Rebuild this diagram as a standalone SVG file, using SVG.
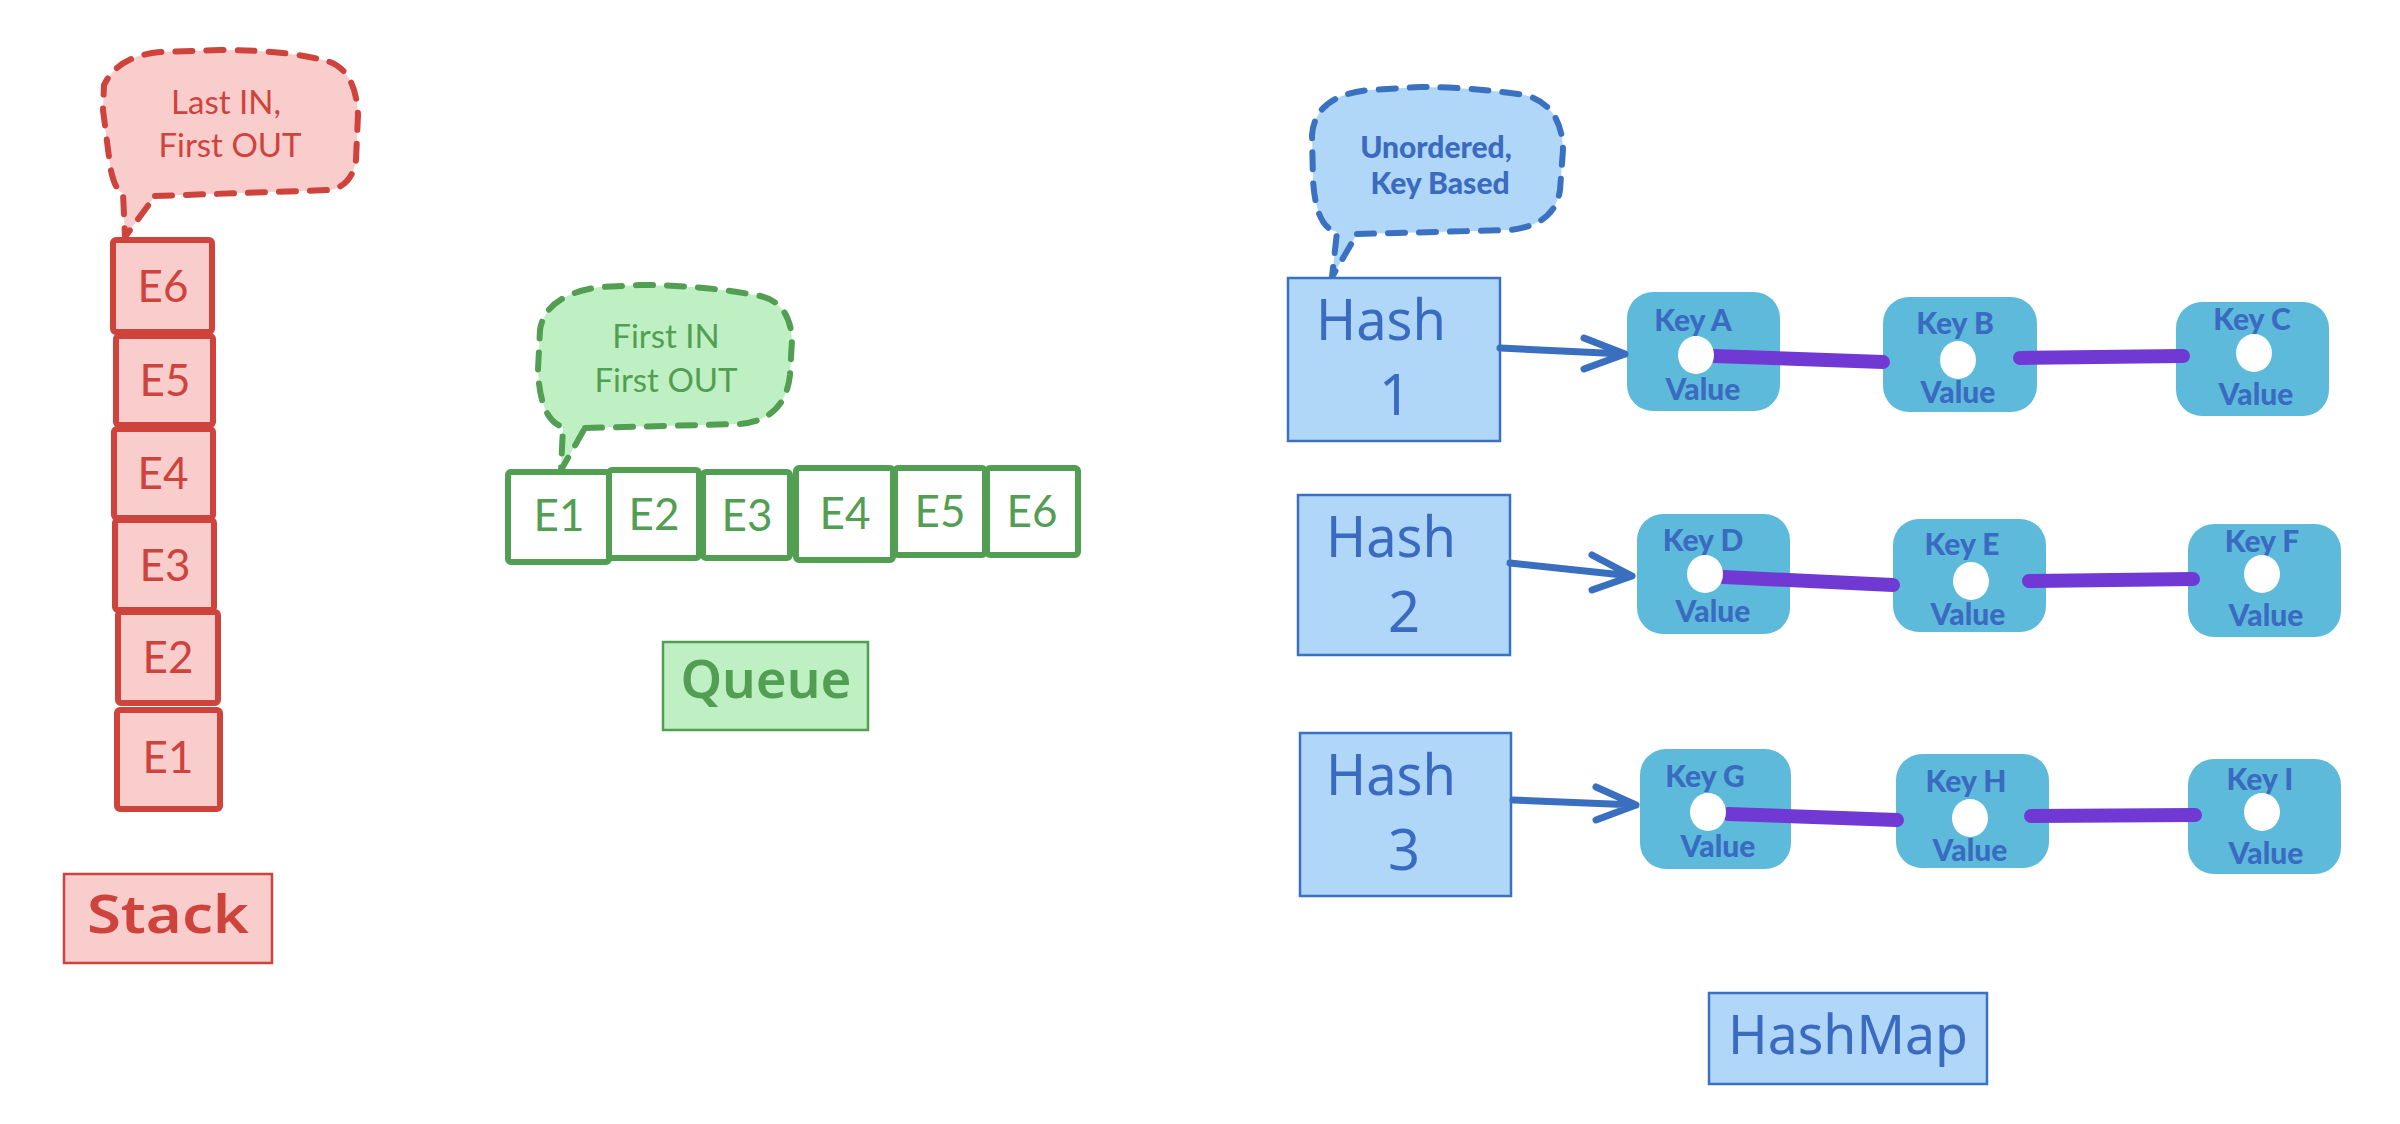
<svg xmlns="http://www.w3.org/2000/svg" width="2400" height="1124" viewBox="0 0 2400 1124">
<style>
.rbox{fill:#f8cdcc;stroke:#cf433d;stroke-width:6;stroke-linejoin:round}
.gbox{fill:#ffffff;stroke:#529e52;stroke-width:6;stroke-linejoin:round}
.rtxt{fill:#cf433d;font-family:Lato,"Noto Sans",sans-serif;font-size:44px;text-anchor:middle}
.gtxt{fill:#529e52;font-family:Lato,"Noto Sans",sans-serif;font-size:44px;text-anchor:middle}
.rbub{fill:#f8cdcc;stroke:#cf433d;stroke-width:6;stroke-dasharray:17 14;stroke-linecap:round;stroke-linejoin:round}
.gbub{fill:#bff0c3;stroke:#529e52;stroke-width:6;stroke-dasharray:17 14;stroke-linecap:round;stroke-linejoin:round}
.bbub{fill:#b0d6f8;stroke:#3b71c1;stroke-width:6;stroke-dasharray:17 14;stroke-linecap:round;stroke-linejoin:round}
.btxt{font-family:Lato,"Noto Sans",sans-serif;font-size:33px;text-anchor:middle}
.hand{font-family:"Noto Sans",sans-serif;text-anchor:middle}
.hash{fill:#b0d6f8;stroke:#3b71c1;stroke-width:2.5}
.knode{fill:#5dbadb}
.ktxt{fill:#3a6bc0;font-family:Lato,"Liberation Sans",sans-serif;font-weight:900;font-size:30px;text-anchor:middle}
.hole{fill:#ffffff}
.link{stroke:#7139d3;stroke-width:14;stroke-linecap:round;fill:none}
.arrow{stroke:#3a6fc0;stroke-width:7;stroke-linecap:round;stroke-linejoin:round;fill:none}
</style>

<!-- STACK -->
<g id="stack-bubble">
<path class="rbub" d="M155,196 L330,190 Q352,186 356,160 L358,115 Q356,72 330,62 Q290,50 220,50 L160,52 Q118,56 104,85 L103,110 L110,165 Q114,190 123,193 L125,237 Z"/>
<text class="btxt" fill="#cf433d" x="226" y="114">Last IN,</text>
<text class="btxt" fill="#cf433d" x="230" y="157">First OUT</text>
</g>
<g id="stack-e6"><rect class="rbox" x="113" y="240" width="99" height="92" rx="3"/><text class="rtxt" x="163" y="302">E6</text></g>
<g id="stack-e5"><rect class="rbox" x="116" y="336" width="97" height="89" rx="3"/><text class="rtxt" x="165" y="396">E5</text></g>
<g id="stack-e4"><rect class="rbox" x="114" y="429" width="99" height="89" rx="3"/><text class="rtxt" x="163" y="489">E4</text></g>
<g id="stack-e3"><rect class="rbox" x="115" y="520" width="99" height="90" rx="3"/><text class="rtxt" x="165" y="581">E3</text></g>
<g id="stack-e2"><rect class="rbox" x="118" y="612" width="100" height="91" rx="3"/><text class="rtxt" x="168" y="673">E2</text></g>
<g id="stack-e1"><rect class="rbox" x="117" y="710" width="103" height="99" rx="3"/><text class="rtxt" x="168" y="773">E1</text></g>
<g id="stack-label">
<rect x="64" y="874" width="208" height="89" fill="#f8cdcc" stroke="#cf433d" stroke-width="2.5"/>
<text class="hand" fill="#cf433d" x="168" y="933" font-size="52" font-weight="600" textLength="162" lengthAdjust="spacingAndGlyphs">Stack</text>
</g>

<!-- QUEUE -->
<g id="queue-bubble">
<path class="gbub" d="M585,428 L740,424 Q785,420 790,375 L792,340 Q790,300 755,295 Q700,285 640,285 L600,287 Q545,295 540,330 L538,370 Q540,420 563,427 L561,470 Z"/>
<text class="btxt" fill="#529e52" x="666" y="348">First IN</text>
<text class="btxt" fill="#529e52" x="666" y="392">First OUT</text>
</g>
<g id="queue-e1"><rect class="gbox" x="508" y="472" width="101" height="90" rx="3"/><text class="gtxt" x="559" y="531">E1</text></g>
<g id="queue-e2"><rect class="gbox" x="609" y="470" width="90" height="88" rx="3"/><text class="gtxt" x="654" y="530">E2</text></g>
<g id="queue-e3"><rect class="gbox" x="703" y="472" width="87" height="86" rx="3"/><text class="gtxt" x="747" y="531">E3</text></g>
<g id="queue-e4"><rect class="gbox" x="796" y="468" width="97" height="92" rx="3"/><text class="gtxt" x="845" y="529">E4</text></g>
<g id="queue-e5"><rect class="gbox" x="895" y="468" width="90" height="87" rx="3"/><text class="gtxt" x="940" y="527">E5</text></g>
<g id="queue-e6"><rect class="gbox" x="987" y="468" width="91" height="87" rx="3"/><text class="gtxt" x="1032" y="527">E6</text></g>
<g id="queue-label">
<rect x="663" y="642" width="205" height="88" fill="#bff0c3" stroke="#529e52" stroke-width="2.5"/>
<text class="hand" fill="#529e52" x="766" y="698" font-size="52" font-weight="600" textLength="171" lengthAdjust="spacingAndGlyphs">Queue</text>
</g>

<!-- HASHMAP -->
<g id="hash-bubble">
<path class="bbub" d="M1357,234 L1510,230 Q1555,225 1560,190 L1563,150 Q1562,105 1525,95 Q1470,87 1420,87 L1370,90 Q1315,95 1312,135 L1313,180 Q1316,228 1337,232 L1332,277 Z"/>
<text class="ktxt" x="1436" y="158" font-size="32">Unordered,</text>
<text class="ktxt" x="1440" y="194" font-size="32">Key Based</text>
</g>
<g id="hash1">
<rect class="hash" x="1288" y="278" width="212" height="163"/>
<text class="hand" fill="#3a6bc0" x="1381" y="340" font-size="56" textLength="130" lengthAdjust="spacingAndGlyphs">Hash</text>
<text class="hand" fill="#3a6bc0" x="1395" y="415" font-size="56">1</text>
</g>
<g id="hash2">
<rect class="hash" x="1298" y="495" width="212" height="160"/>
<text class="hand" fill="#3a6bc0" x="1391" y="557" font-size="56" textLength="130" lengthAdjust="spacingAndGlyphs">Hash</text>
<text class="hand" fill="#3a6bc0" x="1404" y="632" font-size="56">2</text>
</g>
<g id="hash3">
<rect class="hash" x="1300" y="733" width="211" height="163"/>
<text class="hand" fill="#3a6bc0" x="1391" y="795" font-size="56" textLength="130" lengthAdjust="spacingAndGlyphs">Hash</text>
<text class="hand" fill="#3a6bc0" x="1404" y="870" font-size="56">3</text>
</g>

<g id="key-a"><rect class="knode" x="1627" y="292" width="153" height="119" rx="26"/><text class="ktxt" x="1693" y="331">Key A</text><text class="ktxt" x="1703" y="400">Value</text></g>
<g id="key-b"><rect class="knode" x="1883" y="297" width="154" height="115" rx="26"/><text class="ktxt" x="1955" y="334">Key B</text><text class="ktxt" x="1958" y="403">Value</text></g>
<g id="key-c"><rect class="knode" x="2176" y="302" width="153" height="114" rx="26"/><text class="ktxt" x="2252" y="330">Key C</text><text class="ktxt" x="2256" y="405">Value</text></g>
<g id="key-d"><rect class="knode" x="1637" y="514" width="153" height="120" rx="26"/><text class="ktxt" x="1703" y="551">Key D</text><text class="ktxt" x="1713" y="622">Value</text></g>
<g id="key-e"><rect class="knode" x="1893" y="519" width="153" height="113" rx="26"/><text class="ktxt" x="1962" y="555">Key E</text><text class="ktxt" x="1968" y="625">Value</text></g>
<g id="key-f"><rect class="knode" x="2188" y="524" width="153" height="113" rx="26"/><text class="ktxt" x="2262" y="552">Key F</text><text class="ktxt" x="2266" y="626">Value</text></g>
<g id="key-g"><rect class="knode" x="1640" y="749" width="151" height="120" rx="26"/><text class="ktxt" x="1705" y="787">Key G</text><text class="ktxt" x="1718" y="857">Value</text></g>
<g id="key-h"><rect class="knode" x="1896" y="754" width="153" height="114" rx="26"/><text class="ktxt" x="1966" y="792">Key H</text><text class="ktxt" x="1970" y="861">Value</text></g>
<g id="key-i"><rect class="knode" x="2188" y="759" width="153" height="115" rx="26"/><text class="ktxt" x="2260" y="790">Key I</text><text class="ktxt" x="2266" y="864">Value</text></g>

<g id="hashmap-label">
<rect x="1709" y="993" width="278" height="91" fill="#b0d6f8" stroke="#3b71c1" stroke-width="2.5"/>
<text class="hand" fill="#3a6bc0" x="1848" y="1054" font-size="54" textLength="240" lengthAdjust="spacingAndGlyphs">HashMap</text>
</g>

<g id="connectors">
<path class="arrow" d="M1500,348 L1625,354 M1584,338 L1625,354 L1584,369"/>
<path class="arrow" d="M1510,563 L1632,576 M1592,555 L1632,576 L1592,590"/>
<path class="arrow" d="M1513,800 L1636,805 M1596,787 L1636,805 L1596,820"/>
<line class="link" x1="1714" y1="356" x2="1883" y2="362"/>
<line class="link" x1="2020" y1="358" x2="2183" y2="356"/>
<line class="link" x1="1724" y1="577" x2="1893" y2="585"/>
<line class="link" x1="2029" y1="581" x2="2193" y2="579"/>
<line class="link" x1="1728" y1="814" x2="1897" y2="820"/>
<line class="link" x1="2031" y1="816" x2="2195" y2="815"/>
</g>

<g id="holes">
<ellipse class="hole" cx="1696" cy="355" rx="18" ry="19"/>
<ellipse class="hole" cx="1958" cy="360" rx="18" ry="19"/>
<ellipse class="hole" cx="2254" cy="353" rx="18" ry="19"/>
<ellipse class="hole" cx="1705" cy="574" rx="18" ry="19"/>
<ellipse class="hole" cx="1971" cy="581" rx="18" ry="19"/>
<ellipse class="hole" cx="2262" cy="574" rx="18" ry="19"/>
<ellipse class="hole" cx="1708" cy="812" rx="18" ry="19"/>
<ellipse class="hole" cx="1970" cy="818" rx="18" ry="19"/>
<ellipse class="hole" cx="2262" cy="812" rx="18" ry="19"/>
</g>
</svg>
